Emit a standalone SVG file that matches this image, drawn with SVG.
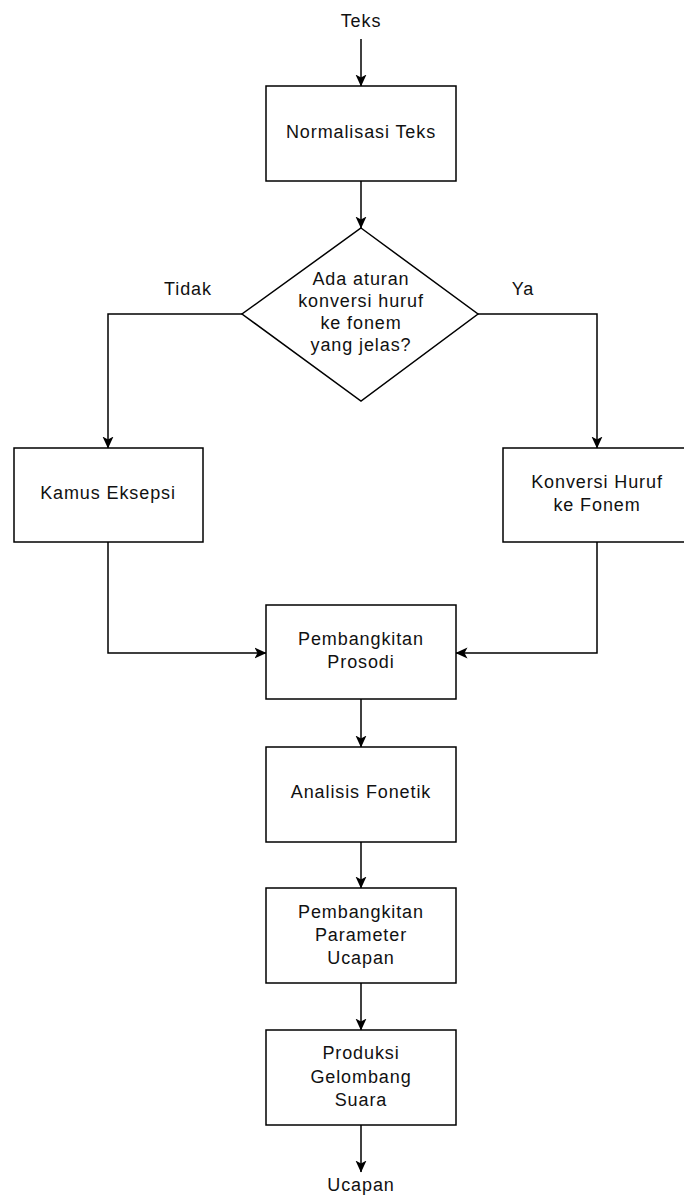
<svg xmlns="http://www.w3.org/2000/svg" width="684" height="1195" viewBox="0 0 684 1195">
  <style>
    .box { fill: #ffffff; stroke: #000000; stroke-width: 1.5; }
    .edge { fill: none; stroke: #000000; stroke-width: 1.5; }
    text { font-family: "Liberation Sans", Arial, sans-serif; font-size: 18px; letter-spacing: 0.9px; fill: #111111; text-anchor: middle; }
  </style>
  <defs>
    <marker id="arrow" viewBox="0 0 12 12" markerWidth="12" markerHeight="12" refX="11.5" refY="6" orient="auto" markerUnits="userSpaceOnUse">
      <path d="M0,0.5 L12,6 L0,11.5 L3,6 z" fill="#000000"/>
    </marker>
  </defs>
  <rect width="684" height="1195" fill="#ffffff"/>

  <!-- connectors -->
  <g id="connectors">
    <path class="edge" d="M361,39 L361,86" marker-end="url(#arrow)"/>
    <path class="edge" d="M361,181 L361,228" marker-end="url(#arrow)"/>
    <path class="edge" d="M242,314 L108,314 L108,448" marker-end="url(#arrow)"/>
    <path class="edge" d="M478,314 L597,314 L597,448" marker-end="url(#arrow)"/>
    <path class="edge" d="M108,542 L108,653 L266,653" marker-end="url(#arrow)"/>
    <path class="edge" d="M597,542 L597,653 L456,653" marker-end="url(#arrow)"/>
    <path class="edge" d="M361,699 L361,747" marker-end="url(#arrow)"/>
    <path class="edge" d="M361,842 L361,888" marker-end="url(#arrow)"/>
    <path class="edge" d="M361,983 L361,1030" marker-end="url(#arrow)"/>
    <path class="edge" d="M361,1125 L361,1172" marker-end="url(#arrow)"/>
    <text x="188" y="295">Tidak</text>
    <text x="523" y="295">Ya</text>
  </g>

  <g id="input">
    <text x="361" y="27">Teks</text>
  </g>

  <g id="normalisasi">
    <rect class="box" x="266" y="86" width="190" height="95"/>
    <text x="361" y="138">Normalisasi Teks</text>
  </g>

  <g id="keputusan">
    <polygon class="box" points="361,228 478,314 361,401 242,314"/>
    <text x="361" y="285">Ada aturan</text>
    <text x="361" y="307">konversi huruf</text>
    <text x="361" y="329">ke fonem</text>
    <text x="361" y="351">yang jelas?</text>
  </g>

  <g id="kamus">
    <rect class="box" x="14" y="448" width="189" height="94"/>
    <text x="108" y="499">Kamus Eksepsi</text>
  </g>

  <g id="konversi">
    <rect class="box" x="503" y="448" width="190" height="94"/>
    <text x="597" y="488">Konversi Huruf</text>
    <text x="597" y="511">ke Fonem</text>
  </g>

  <g id="prosodi">
    <rect class="box" x="266" y="605" width="190" height="94"/>
    <text x="361" y="645">Pembangkitan</text>
    <text x="361" y="668">Prosodi</text>
  </g>

  <g id="fonetik">
    <rect class="box" x="266" y="747" width="190" height="95"/>
    <text x="361" y="798">Analisis Fonetik</text>
  </g>

  <g id="parameter">
    <rect class="box" x="266" y="888" width="190" height="95"/>
    <text x="361" y="918">Pembangkitan</text>
    <text x="361" y="941">Parameter</text>
    <text x="361" y="964">Ucapan</text>
  </g>

  <g id="produksi">
    <rect class="box" x="266" y="1030" width="190" height="95"/>
    <text x="361" y="1059">Produksi</text>
    <text x="361" y="1083">Gelombang</text>
    <text x="361" y="1106">Suara</text>
  </g>

  <g id="output">
    <text x="361" y="1191">Ucapan</text>
  </g>
</svg>
